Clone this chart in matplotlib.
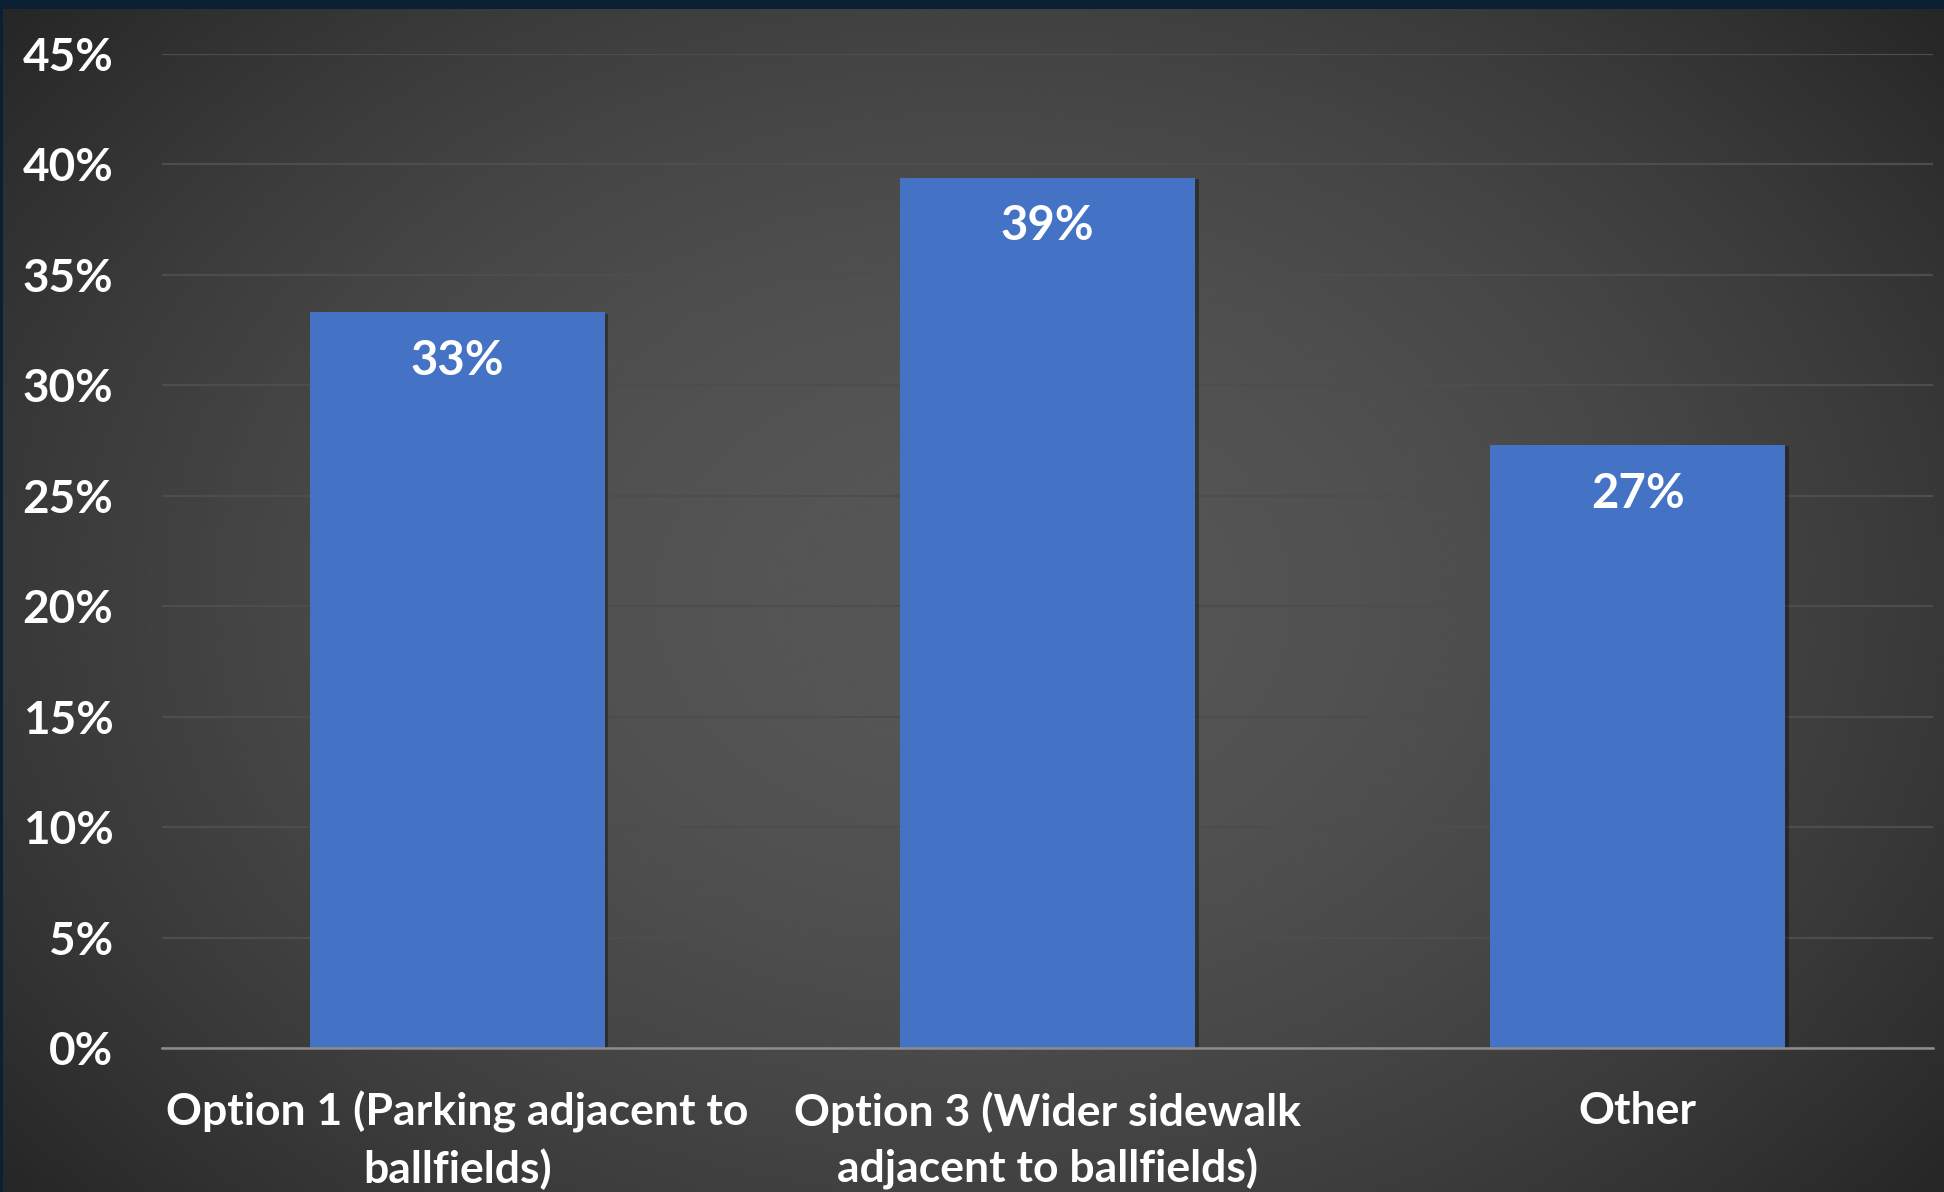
import matplotlib.pyplot as plt
import matplotlib.patheffects as pe
import numpy as np

categories = ["Option 1 (Parking adjacent to\nballfields)",
              "Option 3 (Wider sidewalk\nadjacent to ballfields)",
              "Other"]
shares = [0.333, 0.394, 0.273]
yticks = [0, 0.05, 0.10, 0.15, 0.20, 0.25, 0.30, 0.35, 0.40, 0.45]

plt.rcParams['font.family'] = ['Lato', 'DejaVu Sans']
plt.rcParams['font.weight'] = 'bold'

W, H = 1944, 1192
fig = plt.figure(figsize=(W / 100, H / 100), dpi=100)
fig.patch.set_facecolor('#0a1f33')

# radial-ish dark gradient behind the chart
bg = fig.add_axes([3 / W, 0, 1 - 3 / W, 1 - 9 / H], zorder=-1)
yy, xx = np.mgrid[0:1:400j, 0:1:650j]
r = np.sqrt(((xx - 0.5) / 0.62) ** 2 + ((yy - 0.5) / 0.75) ** 2)
shade = np.clip(0.34 - 0.175 * r ** 1.8, 0.12, 0.36)
bg.imshow(shade, cmap='gray', vmin=0, vmax=1, aspect='auto',
          extent=[0, 1, 0, 1], interpolation='bicubic')
bg.axis('off')

ax = fig.add_axes([162 / W, 144 / H, (1933 - 162) / W, (1048 - 54) / H])
ax.set_facecolor('none')

x = np.arange(len(categories))
bars = ax.bar(x, shares, width=0.5, color='#4472C4', zorder=3)
for b in bars:
    b.set_path_effects([pe.SimplePatchShadow(offset=(2.5, -1), alpha=0.35,
                                             shadow_rgbFace='black'),
                        pe.Normal()])
for b, v in zip(bars, shares):
    ax.text(b.get_x() + b.get_width() / 2, v - 0.022, f"{v * 100:.0f}%",
            ha='center', va='center', color='white', fontsize=34,
            fontweight='bold', zorder=4)

ax.set_xlim(-0.5, 2.5)
ax.set_ylim(0, 0.45)
ax.set_yticks(yticks)
ax.set_yticklabels([f"{t * 100:.0f}%" for t in yticks])
ax.set_xticks(x)
ax.set_xticklabels(categories, linespacing=1.45)
ax.tick_params(axis='y', length=0, pad=35, labelsize=33, labelcolor='white')
ax.tick_params(axis='x', length=0, pad=31, labelsize=32, labelcolor='white')

ax.grid(axis='y', color='#4d4d4d', linewidth=1.6, zorder=0)
for s in ['top', 'right', 'left']:
    ax.spines[s].set_visible(False)
ax.spines['bottom'].set_color('#8c8c8c')
ax.spines['bottom'].set_linewidth(1.8)
ax.spines['bottom'].set_zorder(5)

fig.savefig('out.png', dpi=100, facecolor=fig.get_facecolor())
